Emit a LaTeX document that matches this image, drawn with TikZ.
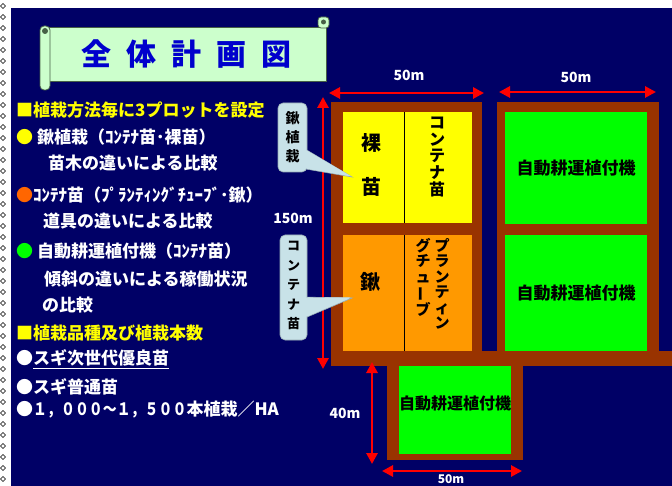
\documentclass[tikz,border=0pt]{standalone}
\usepackage{fontspec}
\newfontfamily\jp{Noto Sans CJK JP}
\usetikzlibrary{arrows.meta}
\definecolor{navy}{RGB}{0,0,102}
\definecolor{brn}{RGB}{153,51,0}
\definecolor{yel}{RGB}{255,255,0}
\definecolor{org}{RGB}{255,153,0}
\definecolor{grn}{RGB}{0,255,0}
\definecolor{scrollc}{RGB}{204,255,204}
\definecolor{scrolledge}{RGB}{70,95,70}
\definecolor{callc}{RGB}{200,226,232}
\definecolor{calledge}{RGB}{150,170,180}
\definecolor{titleblue}{RGB}{0,0,204}
\definecolor{bulorg}{RGB}{255,102,0}
\tikzset{
  cell/.style={inner sep=0pt, outer sep=0pt, anchor=north west},
  divider/.style={draw=black, line width=0.8pt},
  dimarrow/.style={draw=red, line width=2.8pt, {Triangle[length=11pt,width=11pt]}-{Triangle[length=11pt,width=11pt]}},
  dimlabel/.style={text=white, font=\jp\bfseries\fontsize{14}{14}\selectfont, inner sep=0pt},
  listtext/.style={anchor=west, inner sep=0pt, text=white, font=\jp\bfseries\fontsize{17}{20}\selectfont},
  headtext/.style={listtext, text=yel},
  celltext/.style={text=black, inner sep=0pt, font=\jp\bfseries\fontsize{20}{22}\selectfont},
  vtext/.style={text=black, inner sep=0pt, align=center, anchor=north},
  callbox/.style={fill=callc, draw=calledge, line width=0.6pt, rounded corners=5pt, inner sep=0pt},
  callwedge/.style={fill=callc, draw=calledge, line width=0.6pt},
  greentext/.style={text=black, inner sep=0pt, font=\jp\bfseries\fontsize{17}{20}\selectfont},
}
\begin{document}
\begin{tikzpicture}[x=1pt,y=-1pt]
\useasboundingbox (0,0) rectangle (672,486);
% background
\fill[white] (0,0) rectangle (672,486);
\fill[navy] (11,8) rectangle (672,486);
\foreach \yy in {6,17,...,486} {
  \draw[black, line width=0.7pt] (3,\yy-2.5) -- (5.5,\yy) -- (3,\yy+2.5) -- (0.5,\yy) -- cycle;
}
% title scroll
\node[fill=scrollc, draw=scrolledge, line width=0.8pt, minimum width=278pt, minimum height=54pt, inner sep=0pt] (title) at (187,54) {};
\draw[fill=scrollc, draw=scrolledge, line width=0.8pt, rounded corners=4pt] (40,26) rectangle (50,90);
\fill[scrolledge] (45,31) circle (3pt);
\draw[fill=scrollc, draw=scrolledge, line width=0.8pt, rounded corners=3pt] (318,17) rectangle (329,28);
\fill[scrolledge] (323.5,22) circle (2.5pt);
\node[text=titleblue, font=\jp\bfseries\fontsize{30}{30}\selectfont, inner sep=0pt] (titletext) at (186,54) {全\hspace{15pt}体\hspace{15pt}計\hspace{15pt}画\hspace{15pt}図};
% fields (brown frames)
\fill[brn] (331,102) rectangle (482,366);
\fill[brn] (497,102) rectangle (659,351);
\fill[brn] (331,351) rectangle (672,366);
\fill[brn] (387,351) rectangle (523,460);
% cells
\node[cell, fill=yel, minimum width=61pt, minimum height=111pt] (yl) at (343,112) {};
\node[cell, fill=yel, minimum width=68pt, minimum height=111pt] (yr) at (404,112) {};
\node[cell, fill=org, minimum width=61pt, minimum height=116pt] (ol) at (343,235) {};
\node[cell, fill=org, minimum width=68pt, minimum height=116pt] (or) at (404,235) {};
\node[cell, fill=grn, minimum width=142pt, minimum height=112pt] (g1) at (505,112) {};
\node[cell, fill=grn, minimum width=142pt, minimum height=116pt] (g2) at (505,235) {};
\node[cell, fill=grn, minimum width=112pt, minimum height=88pt] (g3) at (399,366) {};
\draw[divider] (yl.north east) -- (yl.south east);
\draw[divider] (ol.north east) -- (ol.south east);
% cell texts
\node[celltext] (t1) at (371,143) {裸};
\node[celltext] (t2) at (371,187) {苗};
\node[vtext, font=\jp\bfseries\fontsize{16}{16.6}\selectfont] (t3) at (437,117) {コ\\ン\\テ\\ナ\\苗};
\node[celltext] (t4) at (370,282) {鍬};
\node[vtext, font=\jp\bfseries\fontsize{15}{15.5}\selectfont] (t5) at (442,238) {プ\\ラ\\ン\\テ\\ィ\\ン};
\node[vtext, font=\jp\bfseries\fontsize{15}{15.5}\selectfont] (t6) at (423,238) {グ\\チ\\ュ\\\rotatebox[origin=c]{90}{ー}\\ブ};
\node[greentext] (t7) at (g1.center) {自動耕運植付機};
\node[greentext] (t8) at (g2.center) {自動耕運植付機};
\node[greentext, font=\jp\bfseries\fontsize{16}{18}\selectfont] (t9) at ([yshift=7pt]g3.center) {自動耕運植付機};
% dimension arrows
\coordinate (a1) at (329,93); \coordinate (a2) at (484,93);
\coordinate (b1) at (499,92); \coordinate (b2) at (656,92);
\coordinate (c1) at (323,97); \coordinate (c2) at (323,369);
\coordinate (d1) at (372,362); \coordinate (d2) at (372,464);
\coordinate (e1) at (382,471); \coordinate (e2) at (522,471);
\draw[dimarrow] (a1) -- (a2);
\draw[dimarrow] (b1) -- (b2);
\draw[dimarrow] (c1) -- (c2);
\draw[dimarrow] (d1) -- (d2);
\draw[dimarrow] (e1) -- (e2);
\node[dimlabel] (l1) at (409,75) {50m};
\node[dimlabel] (l2) at (576,77) {50m};
\node[dimlabel] (l3) at (293,218) {150m};
\node[dimlabel] (l4) at (345,413) {40m};
\node[dimlabel, font=\jp\bfseries\fontsize{12}{12}\selectfont] (l5) at (451,479.5) {50m};
% callouts
\coordinate (tip1) at (352,177);
\coordinate (tip2) at (352,298);
\draw[callwedge] (300,146) -- (tip1) -- (300,168) -- cycle;
\node[callbox, minimum width=29pt, minimum height=69pt] (cb1) at (292.5,137.5) {};
\fill[callc] (300,146.6) -- ([xshift=-1pt,yshift=0.8pt]tip1) -- (300,167.4) -- cycle;
\node[vtext, font=\jp\bfseries\fontsize{14}{19}\selectfont] (ct1) at (292.5,111) {鍬\\植\\栽};
\draw[callwedge] (300,297) -- (tip2) -- (300,320) -- cycle;
\node[callbox, minimum width=27pt, minimum height=105pt] (cb2) at (293.5,287.5) {};
\fill[callc] (300,297.7) -- ([xshift=-1.5pt,yshift=0.7pt]tip2) -- (300,319.3) -- cycle;
\node[vtext, font=\jp\bfseries\fontsize{13}{19.5}\selectfont] (ct2) at (293.5,241) {コ\\ン\\テ\\ナ\\苗};
% left list
\node[headtext] (h1) at (16,110) {■植栽方法毎に3プロットを設定};
\node[listtext] (s1) at (16,137) {{\color{yel}●} 鍬植栽（ｺﾝﾃﾅ苗･裸苗）};
\node[listtext] (s2) at (48,163) {苗木の違いによる比較};
\node[listtext] (s3) at (16,195) {{\color{bulorg}●}ｺﾝﾃﾅ苗（ﾌﾟﾗﾝﾃｨﾝｸﾞﾁｭｰﾌﾞ･鍬）};
\node[listtext] (s4) at (43,221) {道具の違いによる比較};
\node[listtext] (s5) at (16,251) {{\color{grn}●} 自動耕運植付機（ｺﾝﾃﾅ苗）};
\node[listtext] (s6) at (44,279) {傾斜の違いによる稼働状況};
\node[listtext] (s7) at (42,305) {の比較};
\node[headtext] (h2) at (16,333) {■植栽品種及び植栽本数};
\node[listtext] (s8) at (16,359) {●\underline{スギ次世代優良苗}};
\node[listtext] (s9) at (16,387) {●スギ普通苗};
\node[listtext] (s10) at (16,410) {●\scalebox{0.82}[1]{１，０００～１，５００}本植栽／HA};
\end{tikzpicture}
\end{document}
